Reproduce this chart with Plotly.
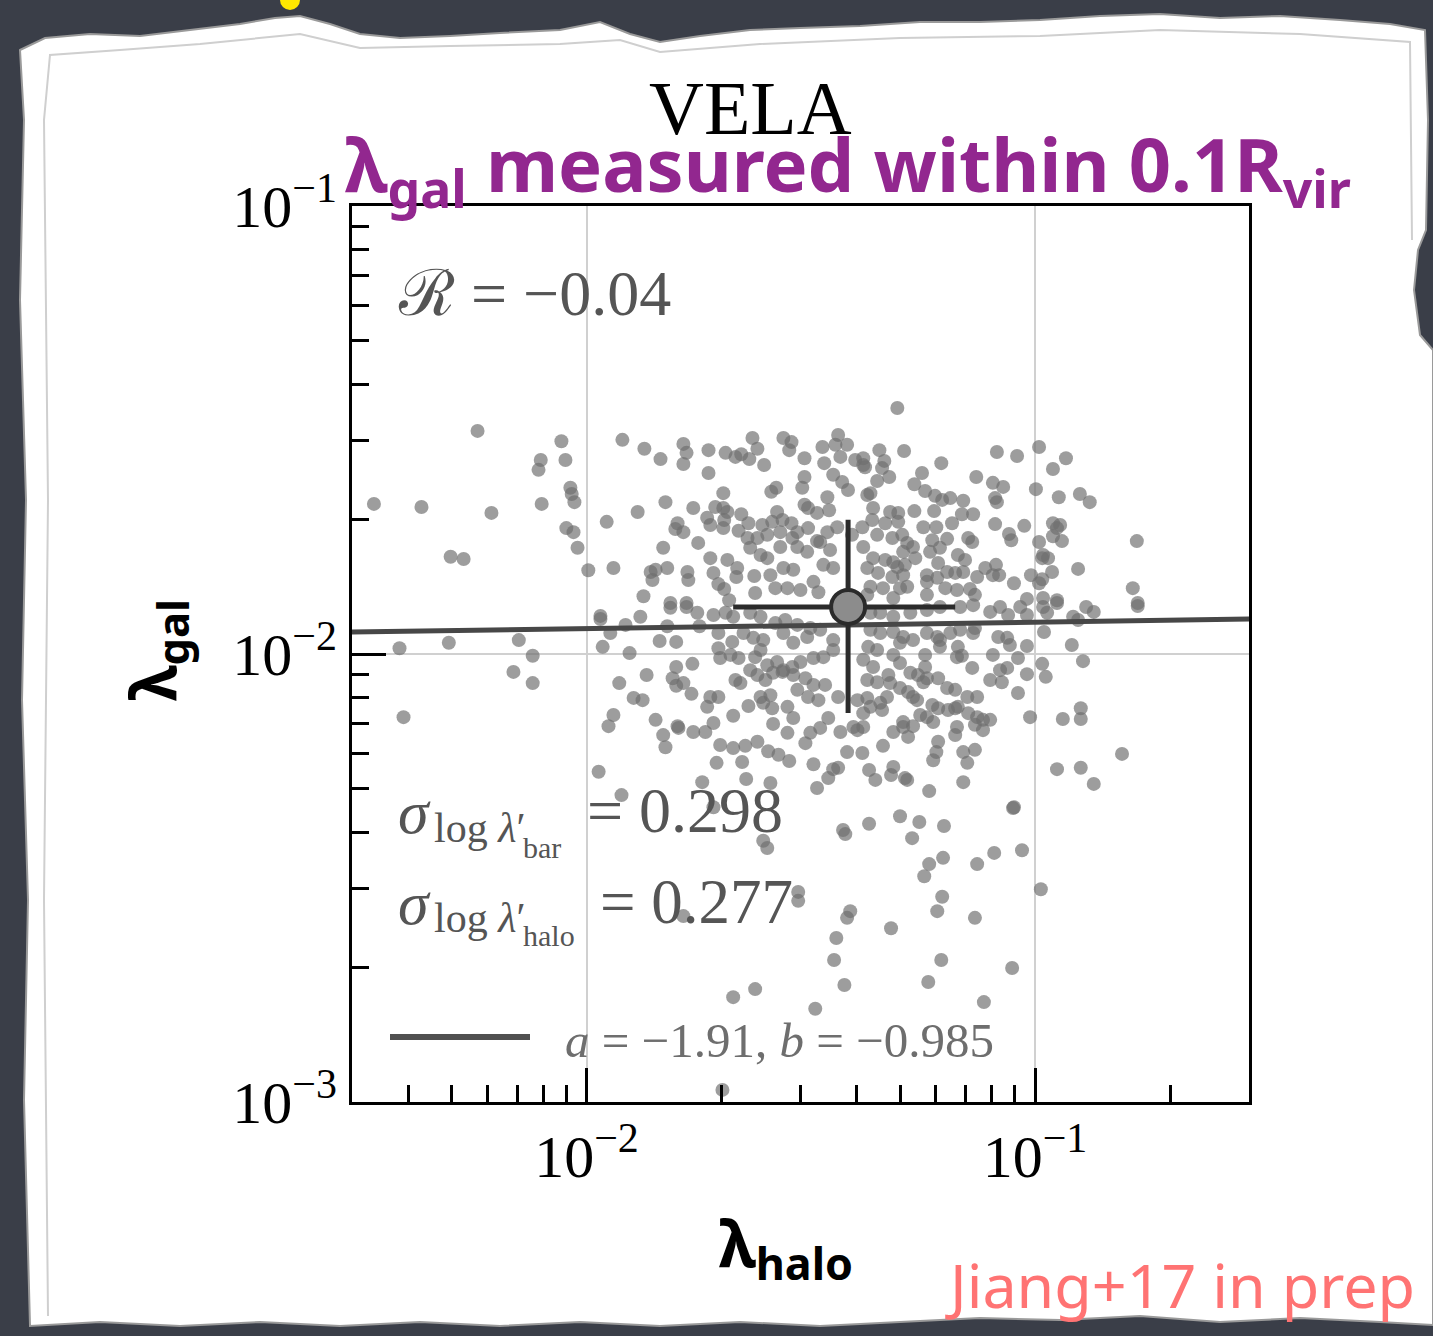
import plotly.graph_objects as go

# ---------------- data (log10 values) ----------------
log_lambda_halo = [
    -2.243, -2.056, -2.102, -2.047, -2.107, -2.036, -2.033, -2.027, -2.474, -2.368, -2.212, -2.100, -1.955, -2.045, -2.029, -2.020, -2.303, -2.274, -1.996, -1.940,
    -1.920, -1.871, -1.835, -1.784, -1.777, -1.784, -1.728, -1.690, -1.668, -1.655, -1.637, -1.630, -1.619, -1.604, -1.561, -1.543, -1.548, -1.514, -1.474, -1.470,
    -1.439, -1.445, -1.419, -1.434, -1.401, -1.383, -1.728, -1.514, -1.519, -1.577, -1.588, -1.450, -1.430, -1.417, -1.374, -1.695, -1.824, -1.886,
    -1.762, -1.713, -1.695, -1.686, -1.731, -1.693, -1.724, -1.695, -1.797, -1.802, -1.784, -1.655, -1.639, -1.661, -1.608, -1.586, -1.575, -1.563, -1.543,
    -1.514, -1.506, -1.486, -1.463, -1.459, -1.506, -1.530, -1.486, -1.463, -1.441, -1.408, -1.385, -1.751, -1.829, -1.641, -1.619, -1.597, -1.568, -1.541,
    -1.635, -1.612, -1.597, -1.568, -1.530, -1.508, -1.479, -1.457, -1.724, -1.686,
    -1.857, -1.846, -1.820, -1.853, -1.873, -1.775, -1.773, -1.717, -1.664, -1.666, -1.706, -1.693, -1.626, -1.624,
    -1.590, -1.561, -1.539, -1.579, -1.552, -1.523, -1.494, -1.472, -1.450, -1.483, -1.813, -1.777, -1.682,
    -1.307, -1.347, -1.292, -1.383, -1.336, -1.379, -1.341, -1.325, -1.209, -1.252, -1.131, -1.085, -1.040, -0.991, -0.931, -0.960, -1.094, -1.071, -0.998, -0.947,
    -0.900, -0.878, -1.089, -1.085, -1.352, -1.367, -1.269, -1.245, -1.223, -1.207, -1.189, -1.160, -1.138, -1.163, -1.185, -1.225, -1.269, -1.249, -1.220, -1.196,
    -1.229, -1.089, -1.024, -1.058, -1.053, -1.149, -1.140, -0.960, -0.951, -0.944, -0.960, -0.940, -0.991, -0.773, -0.982, -0.971, -0.984, -0.904, -0.962, -1.009,
    -0.984, -0.991, -1.047, -1.087, -1.111, -1.094, -1.080, -1.129, -1.172, -1.156, -1.160, -1.178, -1.196, -1.216, -1.234, -1.212, -1.272, -1.267, -1.294, -1.316,
    -1.241, -1.218, -1.200, -1.241, -1.174, -1.145, -1.134, -1.018, -0.982, -0.951, -0.782, -0.771, -1.361, -1.323, -1.305, -1.363, -1.334, -1.305, -1.352,
    -1.318, -1.296, -1.285, -1.383, -1.361, -1.334, -1.307, -1.290, -1.374, -1.350, -1.318, -1.294, -1.367, -1.339, -1.301, -1.285, -1.374, -1.316, -1.241,
    -2.417, -2.307, -2.151, -2.120, -2.163, -2.120, -2.408, -1.969, -1.969, -1.947, -1.964, -1.927, -1.940, -1.951, -1.973, -1.922,
    -1.880, -1.913, -1.813, -1.777, -1.753, -1.820, -1.748, -1.837, -1.800, -1.904, -1.866, -1.800, -1.764, -1.808, -1.784, -1.800, -1.766, -1.895, -1.875,
    -1.724, -1.706, -1.731, -1.846, -1.797, -1.795, -1.829, -1.824, -1.762, -1.735, -1.717, -1.673, -1.639, -1.606, -1.586, -1.590, -1.612, -1.552, -1.539, -1.584,
    -1.552, -1.512, -1.501, -1.479, -1.461, -1.434, -1.419, -1.385, -1.702, -1.673, -1.646, -1.619, -1.595, -1.572, -1.548, -1.710, -1.653, -1.494, -1.450, -1.439,
    -1.461, -1.486, -1.644, -1.590, -1.742, -1.370,
    -1.717, -1.690, -1.673, -1.635, -1.612, -1.579, -1.557, -1.530, -1.501, -1.479, -1.706, -1.675, -1.650, -1.628, -1.606, -1.561, -1.539, -1.508, -1.450, -1.706,
    -1.702, -1.679, -1.661, -1.624, -1.612, -1.597, -1.575, -1.561, -1.541, -1.523, -1.494, -1.472, -1.450, -1.635, -1.619, -1.601, -1.584, -1.563, -1.539, -1.512,
    -1.494, -1.468, -1.530, -1.506, -1.483, -1.668, -1.657, -1.439, -1.396, -1.383, -1.405, -1.396,
    -0.771, -0.886, -0.869, -0.915, -0.904, -0.980, -0.918, -0.893, -0.984, -0.976, -1.018, -1.018, -1.038, -1.038, -1.062, -1.078, -1.074, -1.100, -1.094, -1.082,
    -1.056, -1.062, -1.140, -1.172, -1.163, -1.174, -1.216, -1.196, -1.178, -1.151, -1.129, -1.149, -1.178, -1.172, -1.194, -1.216, -1.229, -1.249, -1.241, -1.261,
    -1.278, -1.272, -1.263, -1.283, -1.301, -1.327, -1.330, -1.345, -1.341, -1.256, -1.241, -1.227, -1.272, -1.294, -1.294, -1.316, -1.283, -1.129, -1.116, -1.100,
    -1.134, -1.116, -1.174, -1.178, -1.011, -0.938, -0.898, -0.898, -0.806, -1.216, -1.220, -1.227, -1.160, -1.134, -1.151, -1.339, -1.356, -1.316, -1.321,
    -1.290, -1.285, -1.236, -1.160, -0.951, -0.898, -0.869, -1.047,
    -1.367, -1.345, -1.316, -1.294, -1.272, -1.241, -1.212, -1.212, -1.372, -1.352, -1.316, -1.301, -1.383, -1.361, -1.374, -1.352, -1.323, -1.374, -1.367, -1.383,
    -1.245, -1.245, -1.218, -1.189, -1.167, -1.138, -1.301, -1.367, -1.345, -1.316, -1.278, -1.241, -1.212, -1.167, -1.138, -1.134, -1.100, -1.078, -1.060, -1.033, -1.018, -0.982, -0.973, -0.951,
    -1.717, -1.606, -1.597, -1.428, -1.423, -1.370, -1.528, -1.528, -1.412, -1.419, -1.443, -1.448, -1.425, -1.490, -1.673, -1.624, -1.784, -1.697, -1.049, -1.301,
    -1.258, -1.203, -1.274, -1.205, -1.236, -1.247, -1.129, -1.091, -1.029, -0.987, -1.207, -1.218, -1.134, -1.321, -1.209, -1.051, -1.238, -1.114,
]
log_lambda_gal = [
    -1.502, -1.525, -1.567, -1.567, -1.589, -1.629, -1.643, -1.661, -1.665, -1.672, -1.685, -1.665, -1.705, -1.719, -1.728, -1.763, -1.783, -1.788, -1.813, -1.808,
    -1.522, -1.542, -1.565, -1.531, -1.551, -1.576, -1.545, -1.551, -1.560, -1.554, -1.565, -1.518, -1.542, -1.578, -1.518, -1.527, -1.545, -1.563, -1.538, -1.574,
    -1.511, -1.533, -1.533, -1.560, -1.567, -1.578, -1.596, -1.605, -1.629, -1.629, -1.638, -1.600, -1.616, -1.634, -1.645, -1.641, -1.661, -1.683,
    -1.674, -1.672, -1.674, -1.683, -1.696, -1.701, -1.712, -1.719, -1.708, -1.721, -1.728, -1.688, -1.708, -1.725, -1.712, -1.705, -1.683, -1.701, -1.708,
    -1.667, -1.674, -1.685, -1.650, -1.679, -1.719, -1.728, -1.748, -1.728, -1.717, -1.734, -1.717, -1.752, -1.763, -1.741, -1.741, -1.734, -1.728, -1.741,
    -1.763, -1.779, -1.786, -1.761, -1.761, -1.772, -1.750, -1.768, -1.786, -1.790,
    -1.817, -1.812, -1.808, -1.835, -1.871, -1.817, -1.835, -1.819, -1.808, -1.828, -1.844, -1.855, -1.826, -1.864,
    -1.824, -1.808, -1.812, -1.853, -1.853, -1.857, -1.839, -1.801, -1.808, -1.862, -1.886, -1.886, -1.880,
    -1.451, -1.545, -1.547, -1.563, -1.569, -1.583, -1.585, -1.605, -1.574, -1.596, -1.605, -1.549, -1.558, -1.538, -1.563, -1.587, -1.618, -1.627, -1.632, -1.650,
    -1.643, -1.661, -1.652, -1.661, -1.614, -1.641, -1.621, -1.636, -1.647, -1.656, -1.652, -1.658, -1.688, -1.688, -1.708, -1.681, -1.681, -1.717, -1.717, -1.743,
    -1.746, -1.710, -1.714, -1.732, -1.746, -1.741, -1.750, -1.708, -1.719, -1.712, -1.737, -1.748, -1.750, -1.748, -1.779, -1.786, -1.786, -1.810, -1.817, -1.824,
    -1.833, -1.842, -1.842, -1.801, -1.808, -1.824, -1.824, -1.828, -1.779, -1.790, -1.817, -1.819, -1.817, -1.797, -1.772, -1.763, -1.761, -1.786, -1.772, -1.795,
    -1.824, -1.830, -1.853, -1.839, -1.857, -1.855, -1.868, -1.877, -1.875, -1.880, -1.853, -1.886, -1.674, -1.683, -1.685, -1.701, -1.708, -1.705, -1.734,
    -1.741, -1.734, -1.752, -1.761, -1.786, -1.790, -1.806, -1.801, -1.808, -1.819, -1.828, -1.824, -1.850, -1.853, -1.853, -1.850, -1.868, -1.875, -1.868,
    -1.987, -1.975, -1.969, -2.004, -2.040, -2.065, -2.141, -1.915, -1.922, -1.953, -1.984, -2.065, -2.136, -2.161, -2.263, -2.315,
    -1.917, -1.935, -1.897, -1.895, -1.908, -1.938, -1.938, -1.971, -1.973, -1.998, -2.047, -2.029, -2.022, -2.054, -2.065, -2.071, -2.089, -2.098, -2.103,
    -2.096, -2.096, -2.118, -2.147, -2.161, -2.165, -2.181, -2.208, -2.174, -2.174, -2.154, -2.138, -2.116, -2.109, -2.121, -2.092, -2.096, -2.118, -2.143, -2.156,
    -2.176, -2.199, -2.176, -2.165, -2.143, -2.174, -2.219, -2.221, -2.203, -2.210, -2.205, -2.196, -2.217, -2.225, -2.239, -2.243, -2.241, -2.246, -2.257, -2.254,
    -2.277, -2.299, -2.279, -2.288, -2.286, -2.259,
    -1.913, -1.908, -1.917, -1.908, -1.917, -1.931, -1.924, -1.935, -1.942, -1.946, -1.953, -1.973, -1.953, -1.964, -1.969, -1.953, -1.975, -1.962, -1.969, -1.987,
    -2.009, -2.002, -2.009, -2.007, -1.991, -2.025, -2.018, -2.036, -2.029, -2.018, -2.009, -2.007, -1.991, -2.036, -2.047, -2.058, -2.042, -2.040, -2.047, -2.054,
    -2.069, -2.069, -2.080, -2.096, -2.103, -2.058, -2.065, -2.096, -2.103, -2.132, -2.163, -2.170,
    -1.893, -1.895, -1.906, -1.917, -1.924, -1.951, -1.980, -2.016, -2.022, -2.051, -1.982, -2.045, -2.087, -2.009, -2.031, -2.036, -2.063, -2.058, -2.002, -1.962,
    -1.980, -1.964, -2.031, -1.984, -2.004, -2.007, -2.054, -2.076, -2.080, -2.096, -2.096, -2.132, -2.121, -2.118, -2.125, -2.121, -2.114, -2.063, -2.054, -2.047,
    -2.042, -2.096, -2.103, -2.085, -2.076, -2.047, -2.096, -2.109, -2.125, -2.136, -2.141, -2.152, -2.161, -2.152, -2.163, -2.174, -2.185, -2.141, -2.147, -2.147,
    -2.158, -2.170, -2.163, -2.181, -2.141, -2.145, -2.121, -2.145, -2.223, -2.196, -2.219, -2.237, -2.219, -2.214, -2.243, -2.205, -2.281, -2.252, -2.270,
    -2.277, -2.281, -2.306, -2.286, -2.257, -2.254, -2.290, -2.342,
    -1.946, -1.953, -1.951, -1.962, -1.969, -1.953, -1.969, -1.984, -1.984, -1.991, -2.002, -2.020, -2.013, -2.029, -2.058, -2.063, -2.065, -2.098, -2.118, -2.163,
    -2.029, -2.002, -1.962, -1.953, -1.946, -1.953, -1.975, -1.908, -1.908, -1.917, -1.908, -1.902, -1.895, -1.895, -1.891, -1.942, -1.906, -1.895, -1.913, -1.895, -1.913, -1.895, -1.908, -1.886,
    -2.342, -2.417, -2.433, -2.393, -2.402, -2.379, -2.531, -2.551, -2.574, -2.589, -2.634, -2.683, -2.739, -2.792, -2.766, -2.748, -2.585, -2.973, -2.344, -2.362,
    -2.375, -2.384, -2.411, -2.455, -2.469, -2.496, -2.469, -2.444, -2.438, -2.525, -2.542, -2.574, -2.589, -2.612, -2.683, -2.701, -2.732, -2.777,
]

# best-fit line (end points read at the axis edges)
fit_halo = [0.003, 0.3]
fit_gal = [0.01119, 0.01197]

# median point and its scatter bars
median_halo = 0.0383
median_gal = 0.01274
halo_low, halo_high = 0.02123, 0.06637
gal_low, gal_high = 0.00738, 0.01995

# axis ticks
x_major = [0.01, 0.1]
x_major_text = ["10<sup>−2</sup>", "10<sup>−1</sup>"]
y_major = [0.001, 0.01, 0.1]
y_major_text = ["10<sup>−3</sup>", "10<sup>−2</sup>", "10<sup>−1</sup>"]
x_minor = [0.004, 0.005, 0.006, 0.007, 0.008, 0.009,
           0.02, 0.03, 0.04, 0.05, 0.06, 0.07, 0.08, 0.09, 0.2]
y_minor = [0.002, 0.003, 0.004, 0.005, 0.006, 0.007, 0.008, 0.009,
           0.02, 0.03, 0.04, 0.05, 0.06, 0.07, 0.08, 0.09]

n = min(len(log_lambda_halo), len(log_lambda_gal))
lambda_halo = [10 ** v for v in log_lambda_halo[:n]]
lambda_gal = [10 ** v for v in log_lambda_gal[:n]]

# ---------------- layout helpers ----------------
W, H = 1433, 1336
PL, PR, PT, PB = 352, 1249, 206, 1102


def fx(px):
    return (px - PL) / (PR - PL)


def fy(py):
    return (PB - py) / (PB - PT)


def path_from(pts, close=True):
    s = "M " + " L ".join(f"{fx(x):.5f},{fy(y):.5f}" for x, y in pts)
    return s + (" Z" if close else "")


fig = go.Figure()

fig.add_trace(go.Scatter(
    x=lambda_halo, y=lambda_gal, mode="markers",
    marker=dict(size=14, color="rgba(110,110,110,0.68)", line=dict(width=0)),
    hoverinfo="skip", showlegend=False))

fig.add_trace(go.Scatter(
    x=fit_halo, y=fit_gal, mode="lines",
    line=dict(color="#474747", width=5), hoverinfo="skip", showlegend=False))

fig.add_trace(go.Scatter(
    x=[median_halo], y=[median_gal], mode="markers",
    marker=dict(size=34, color="#8c8c8c", line=dict(color="#2b2b2b", width=4)),
    error_x=dict(type="data", symmetric=False,
                 array=[halo_high - median_halo], arrayminus=[median_halo - halo_low],
                 color="#2b2b2b", thickness=5, width=0),
    error_y=dict(type="data", symmetric=False,
                 array=[gal_high - median_gal], arrayminus=[median_gal - gal_low],
                 color="#2b2b2b", thickness=5, width=0),
    hoverinfo="skip", showlegend=False))

serif = "Liberation Serif"
axis_common = dict(
    type="log", showline=True, linecolor="black", linewidth=3, mirror=True,
    ticks="inside", ticklen=34, tickwidth=2.5, tickcolor="black",
    tickfont=dict(family=serif, size=60, color="black"),
    showgrid=True, gridcolor="#d0d0d0", gridwidth=2, zeroline=False,
)
fig.update_xaxes(range=[-2.5229, -0.5229], tickvals=x_major, ticktext=x_major_text,
                 minor=dict(tickvals=x_minor, ticks="inside", ticklen=17, tickwidth=2.5,
                            tickcolor="black", showgrid=False),
                 **axis_common)
fig.update_yaxes(range=[-3, -1], tickvals=y_major, ticktext=y_major_text,
                 minor=dict(tickvals=y_minor, ticks="inside", ticklen=17, tickwidth=2.5,
                            tickcolor="black", showgrid=False),
                 **axis_common)

# ---------------- background "torn paper" ----------------
paper_edge = [
    (20, 50), (45, 38), (90, 34), (140, 36), (190, 30), (240, 24), (275, 18), (300, 16), (330, 24),
    (360, 34), (400, 38), (450, 36), (500, 33), (560, 30), (600, 22), (630, 34), (660, 42), (700, 36),
    (750, 30), (800, 28), (860, 26), (920, 22), (980, 22), (1040, 20), (1100, 16), (1160, 14),
    (1220, 18), (1280, 16), (1340, 20), (1390, 24), (1425, 30),
    (1428, 120), (1426, 230), (1418, 250), (1414, 290), (1420, 335), (1433, 350),
    (1433, 1325), (1380, 1322), (1300, 1318), (1220, 1322), (1140, 1316), (1060, 1320), (980, 1318),
    (900, 1322), (820, 1326), (740, 1322), (660, 1326), (580, 1322), (500, 1326), (420, 1322),
    (340, 1326), (260, 1322), (180, 1326), (100, 1322), (30, 1326),
    (24, 1100), (28, 900), (22, 700), (26, 500), (20, 300), (24, 120),
]
inner_line = [
    (48, 1316), (44, 900), (48, 500), (44, 120), (50, 55), (120, 50), (200, 44), (300, 34),
    (360, 48), (450, 46), (560, 44), (620, 40), (660, 52), (760, 44), (900, 38), (1040, 36),
    (1160, 30), (1300, 34), (1410, 42), (1412, 240),
]
shapes = [
    dict(type="path", xref="paper", yref="paper", path=path_from(paper_edge),
         fillcolor="white", line=dict(color="#9a9a9a", width=2), layer="below"),
    dict(type="path", xref="paper", yref="paper", path=path_from(inner_line, close=False),
         line=dict(color="#cfcfcf", width=2), layer="below"),
    dict(type="circle", xref="paper", yref="paper", x0=fx(280), x1=fx(300), y0=fy(10), y1=fy(-10),
         fillcolor="#ffe800", line=dict(width=0), layer="below"),
    # legend sample line
    dict(type="line", xref="paper", yref="paper", x0=fx(390), x1=fx(530), y0=fy(1037), y1=fy(1037),
         line=dict(color="#505050", width=6)),
]

gray_txt = "#555555"
ann = []


def add(text, x, y, size, color="black", family=serif, xanchor="left", yanchor="middle", angle=0):
    ann.append(dict(text=text, x=fx(x), y=fy(y), xref="paper", yref="paper", showarrow=False,
                    xanchor=xanchor, yanchor=yanchor, textangle=angle,
                    font=dict(family=family, size=size, color=color)))


add("VELA", 750, 108, 76, xanchor="center")
add("<b>λ<sub>gal</sub> measured within 0.1R<sub>vir</sub></b>", 848, 168, 74,
    color="#92278F", family="Noto Sans", xanchor="center")
add("<b>λ<sub>gal</sub></b>", 156, 650, 62, family="Noto Sans", xanchor="center", angle=-90)
add("<b>λ<sub>halo</sub></b>", 786, 1246, 64, family="Noto Sans", xanchor="center")
add("ℛ = −0.04", 396, 293, 64, color=gray_txt)
add("<i>σ</i>", 396, 812, 62, color=gray_txt)
add("log <i>λ</i>′", 432, 828, 42, color=gray_txt)
add("bar", 521, 847, 30, color=gray_txt)
add("= 0.298", 585, 810, 64, color=gray_txt)
add("<i>σ</i>", 396, 903, 62, color=gray_txt)
add("log <i>λ</i>′", 432, 918, 42, color=gray_txt)
add("halo", 521, 935, 30, color=gray_txt)
add("= 0.277", 598, 902, 63, color=gray_txt)
add("<i>a</i> = −1.91, <i>b</i> = −0.985", 563, 1040, 49, color="#6e6e6e")
add("Jiang+17 in prep", 943, 1284, 61, color="#ff7373", family="Noto Sans")

fig.update_layout(
    width=W, height=H, autosize=False,
    margin=dict(l=PL, r=W - PR, t=PT, b=H - PB, pad=0),
    paper_bgcolor="#3a3e48", plot_bgcolor="white",
    showlegend=False, shapes=shapes, annotations=ann,
)

fig.write_html("out.html")
